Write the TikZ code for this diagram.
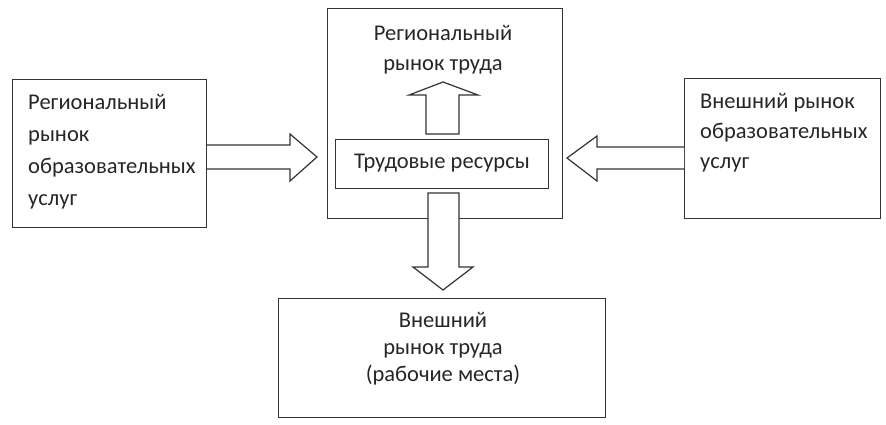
\documentclass[tikz,border=0pt]{standalone}
\usepackage{fontspec}
\setmainfont{Carlito}
\begin{document}
\begin{tikzpicture}[x=1pt,y=-1pt,
  box/.style={draw=black!80, line width=1.3pt, inner sep=0pt, anchor=north west},
  blk/.style={draw=black!80, line width=1.2pt, line join=miter, fill=white},
  txt/.style={text=black!85, inner sep=0pt, font=\fontsize{22.5}{30}\selectfont}]
\useasboundingbox (0,0) rectangle (886,424);
% boxes
\node[box, minimum width=194pt, minimum height=148pt] (L) at (12,79) {};
\node[box, minimum width=235pt, minimum height=210pt] (C) at (327,8) {};
\node[box, minimum width=213pt, minimum height=49pt] (I) at (335,139) {};
\node[box, minimum width=196pt, minimum height=140pt] (R) at (684,78) {};
\node[box, minimum width=327pt, minimum height=119pt] (B) at (278,298) {};
% texts
\node[txt, anchor=west, align=left, font=\fontsize{22.5}{32}\selectfont] (Lt) at (28,152) {Региональный\\рынок\\образовательных\\услуг};
\node[txt, align=center] (Ct) at (443,50) {Региональный\\рынок труда};
\node[txt] (It) at (442,163) {Трудовые ресурсы};
\node[txt, anchor=west, align=left] (Rt) at (700,133) {Внешний рынок\\образовательных\\услуг};
\node[txt, align=center, font=\fontsize{22.5}{27}\selectfont] (Bt) at (443,349) {Внешний\\рынок труда\\(рабочие места)};
% block arrows
\draw[blk] (207,145) -- (290,145) -- (290,134) -- (317,157) -- (290,181) -- (290,169) -- (207,169);
\draw[blk] (684,147) -- (597,147) -- (597,136) -- (567,158) -- (597,181) -- (597,169) -- (684,169);
\draw[blk] (426,134) -- (426,95) -- (409,95) -- (443,82) -- (478,95) -- (459,95) -- (459,134) -- cycle;
\draw[blk] (428,193) -- (428,267) -- (413,267) -- (443,290) -- (473,267) -- (459,267) -- (459,193) -- cycle;
\end{tikzpicture}
\end{document}
